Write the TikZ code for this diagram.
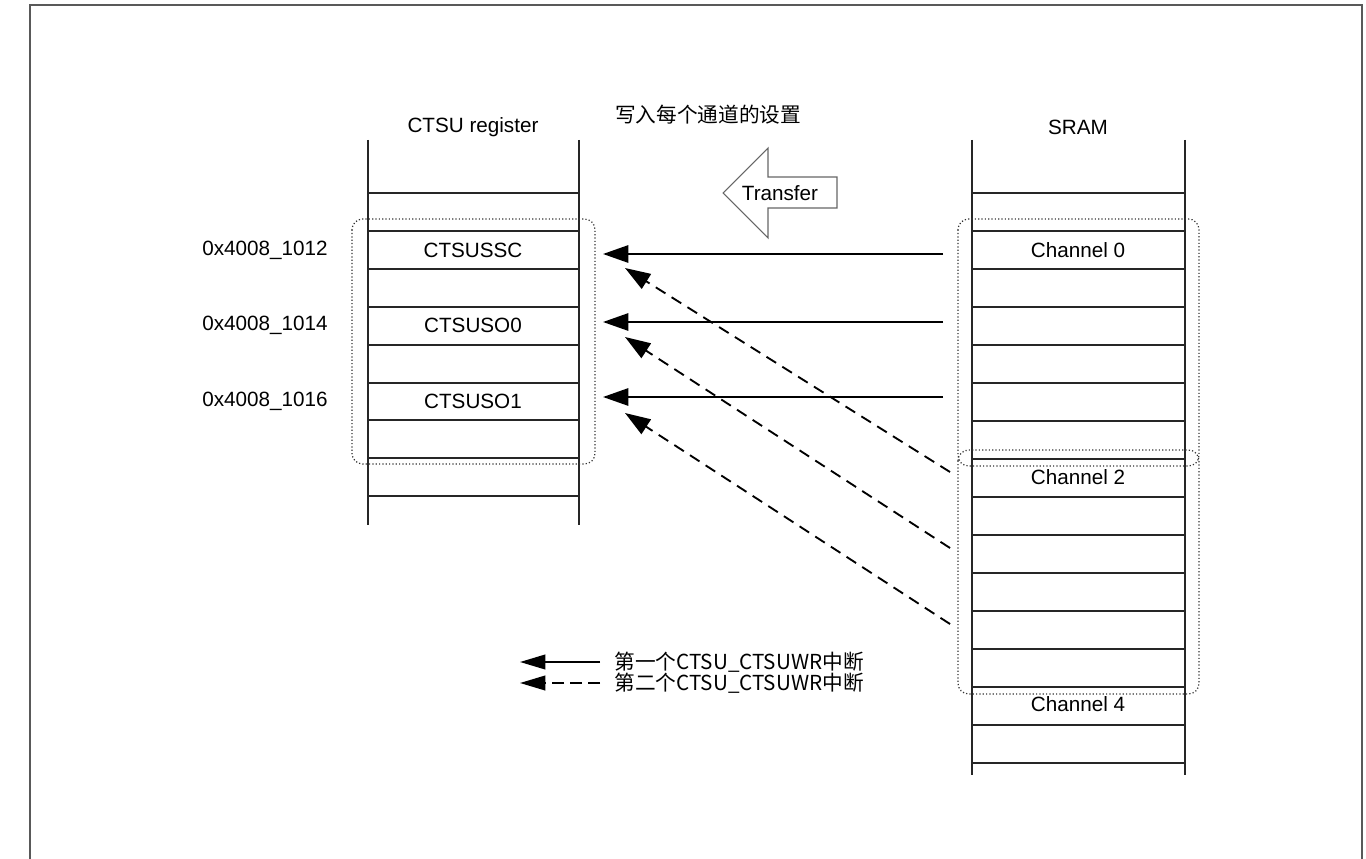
\documentclass[tikz,border=0pt]{standalone}
\usepackage{fontspec}
\setmainfont{Liberation Sans}
\newfontfamily\cjk{Noto Sans CJK SC}
\usetikzlibrary{arrows.meta}
\begin{document}
\begin{tikzpicture}[x=0.75pt,y=-0.75pt,
  font=\fontsize{15.5}{18}\selectfont,
  frameline/.style={line width=1.5pt, black!65},
  colline/.style={line width=1.5pt, black!85},
  rowline/.style={line width=1.5pt, black!85},
  grp/.style={draw=black!80, line width=0.9pt, dash pattern=on 0.9pt off 1.6pt, rounded corners=8pt},
  lbl/.style={inner sep=1pt},
  solidarrow/.style={line width=1.4pt, -{Triangle[length=19pt,width=13pt]}},
  dasharrow/.style={line width=1.4pt, dash pattern=on 8.5pt off 5.5pt, -{Triangle[length=19pt,width=13pt]}},
  legdash/.style={line width=1.4pt, dash pattern=on 9pt off 4.5pt, -{Triangle[length=19pt,width=11pt]}},
  legsolid/.style={line width=1.4pt, -{Triangle[length=19pt,width=11pt]}},
  bigarrow/.style={draw=black!60, line width=0.8pt, fill=white}
]
\fill[white] (0,0) rectangle (1366,859);
\useasboundingbox (0,0) rectangle (1366,859);
\draw[frameline] (30,859) -- (30,5) -- (1362,5) -- (1362,859);

% CTSU register column
\draw[colline] (368,140) -- (368,525) (579,140) -- (579,525);
\foreach \k in {0,...,8} \draw[rowline] (368,{193+37.9*\k}) -- (579,{193+37.9*\k});
\node[lbl] (ctsutitle) at (473,127) {CTSU register};
\node[lbl] (ssc) at (473,250) {CTSUSSC};
\node[lbl] (so0) at (473,325) {CTSUSO0};
\node[lbl] (so1) at (473,401) {CTSUSO1};
\node[lbl] (ad1) at (265,250) {0x4008\_1012};
\node[lbl] (ad2) at (265,325) {0x4008\_1014};
\node[lbl] (ad3) at (265,401) {0x4008\_1016};
\draw[grp] (352,219) rectangle (595,464);

% SRAM column
\draw[colline] (972,140) -- (972,775) (1185,140) -- (1185,775);
\foreach \k in {0,...,15} \draw[rowline] (972,{193+38*\k}) -- (1185,{193+38*\k});
\node[lbl] (sram) at (1078,127) {SRAM};
\node[lbl] (ch0) at (1078,250) {Channel 0};
\node[lbl] (ch2) at (1078,477) {Channel 2};
\node[lbl] (ch4) at (1078,704) {Channel 4};
\draw[grp] (958,219) rectangle (1199,466);
\draw[grp] (958,450) rectangle (1199,694);

% title and transfer arrow
\node[lbl] (title) at (708,115) {\cjk 写入每个通道的设置};
\draw[bigarrow] (723,193) -- (768,148) -- (768,177) -- (837,177) -- (837,208) -- (768,208) -- (768,238) -- cycle;
\node[lbl] (xfer) at (780,193) {Transfer};

% first interrupt (solid)
\coordinate (s1) at (943,254); \coordinate (t1) at (603,254);
\coordinate (s2) at (943,322); \coordinate (t2) at (603,322);
\coordinate (s3) at (943,397); \coordinate (t3) at (603,397);
\draw[solidarrow] (s1) -- (t1);
\draw[solidarrow] (s2) -- (t2);
\draw[solidarrow] (s3) -- (t3);

% second interrupt (dashed)
\coordinate (d1) at (950,472); \coordinate (e1) at (625,268);
\coordinate (d2) at (950,548); \coordinate (e2) at (625,337);
\coordinate (d3) at (950,624); \coordinate (e3) at (625,413);
\draw[dasharrow] (d1) -- (e1);
\draw[dasharrow] (d2) -- (e2);
\draw[dasharrow] (d3) -- (e3);

% legend
\coordinate (ls) at (600,662); \coordinate (lt) at (520,662);
\coordinate (ms) at (600,683); \coordinate (mt) at (520,683);
\draw[legsolid] (ls) -- (lt);
\draw[legdash] (ms) -- (mt);
\node[lbl, anchor=west] (leg1) at (613,662) {\cjk 第一个CTSU\_CTSUWR中断};
\node[lbl, anchor=west] (leg2) at (613,683) {\cjk 第二个CTSU\_CTSUWR中断};
\end{tikzpicture}
\end{document}
